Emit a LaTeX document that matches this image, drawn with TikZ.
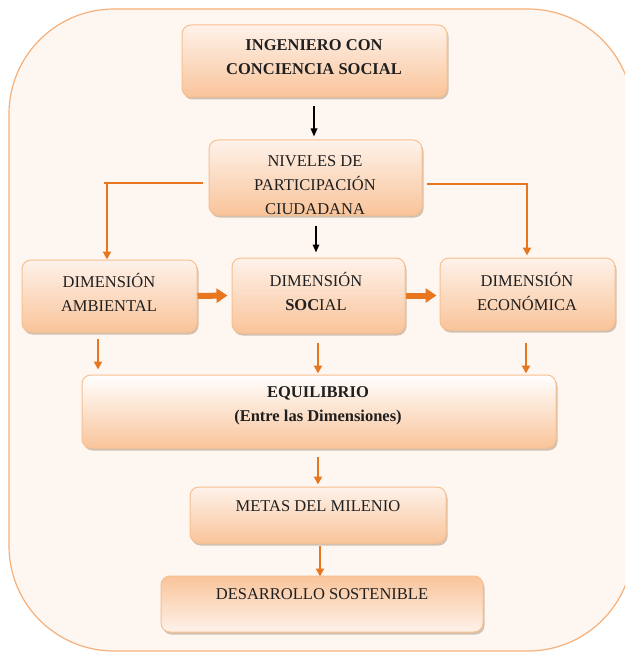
\documentclass[tikz,border=0pt]{standalone}
\usepackage{fontspec}
\setmainfont{Liberation Serif}
\usetikzlibrary{shadows,arrows.meta}
\definecolor{bgfill}{HTML}{FEF6F1}
\definecolor{bgline}{HTML}{F6B07A}
\definecolor{boxline}{HTML}{F8C08F}
\definecolor{boxbot}{HTML}{F9C49A}
\definecolor{boxtop}{HTML}{FEF2EA}
\definecolor{arr}{HTML}{E8761E}
\tikzset{
  box/.style={draw=boxline, line width=1pt, rounded corners=9pt,
    top color=boxtop, bottom color=boxbot,
    drop shadow={shadow xshift=1.5pt, shadow yshift=-2.5pt, fill=boxbot!65!black, opacity=0.45},
    inner sep=0pt},
  boxrev/.style={box, top color=boxbot, bottom color=boxtop},
  txt/.style={align=center, font=\fontsize{16.5}{24}\selectfont, text=black!88, inner sep=0pt},
  oarr/.style={draw=arr, line width=2pt, -{Triangle[length=8pt,width=8pt]}},
  barr/.style={draw=black, line width=1.6pt, -{Triangle[length=8pt,width=6.5pt]}},
  fatarr/.style={draw=arr, line width=6pt, -{Triangle[length=11pt,width=14pt]}},
}
\begin{document}
\begin{tikzpicture}[x=1pt,y=-1pt]
\useasboundingbox (0,0) rectangle (625,652);
\clip (0,0) rectangle (625,652);
\fill[white] (0,0) rectangle (625,652);
\draw[bgline, fill=bgfill, line width=1.2pt, rounded corners=105pt] (9,9) rectangle (633,651);

% boxes
\node[box, minimum width=265pt, minimum height=72pt] (b1) at (314.5,61) {};
\node[box, minimum width=213pt, minimum height=75pt] (b2) at (315.5,177.5) {};
\node[box, minimum width=175pt, minimum height=72pt] (b3) at (109.5,296) {};
\node[box, minimum width=173pt, minimum height=75pt] (b4) at (318.5,295.5) {};
\node[box, minimum width=175pt, minimum height=72pt] (b5) at (527.5,294) {};
\node[box, minimum width=474pt, minimum height=73pt, top color=white] (b6) at (319,411.5) {};
\node[box, minimum width=256pt, minimum height=56pt] (b7) at (318,515) {};
\node[boxrev, minimum width=322pt, minimum height=56pt] (b8) at (322,604) {};

% texts
\node[txt, font=\fontsize{16.5}{24}\selectfont\bfseries] (t1) at (314,57) {INGENIERO CON\\CONCIENCIA SOCIAL};
\node[txt] (t2) at (315,185) {NIVELES DE\\PARTICIPACIÓN\\CIUDADANA};
\node[txt] (t3) at (109,292) {DIMENSIÓN\\AMBIENTAL};
\node[txt] (t4) at (316,291) {DIMENSIÓN\\\textbf{SOC}IAL};
\node[txt] (t5) at (527,291) {DIMENSIÓN\\ECONÓMICA};
\node[txt, font=\fontsize{16.5}{24}\selectfont\bfseries] (t6) at (318,406) {EQUILIBRIO\\(Entre las Dimensiones)};
\node[txt] (t7) at (318,506) {METAS DEL MILENIO};
\node[txt] (t8) at (322,594) {DESARROLLO SOSTENIBLE};

% connectors
\draw[barr] ([xshift=-0.5pt,yshift=-9pt]b1.south) -- ([xshift=-1.5pt,yshift=3pt]b2.north);
\draw[barr] ([xshift=0.5pt,yshift=-10pt]b2.south) -- ([xshift=-2.5pt,yshift=5pt]b4.north);

\coordinate (l0) at (203,183);
\coordinate (r0) at (427,184);
\draw[draw=arr, line width=2pt] (l0) -- (104,183);
\draw[oarr] (107,183) -- ([xshift=-2.5pt]b3.north);
\draw[oarr] (r0) -| ([xshift=-0.5pt,yshift=2pt]b5.north);

\draw[fatarr] (b3.east) -- ([xshift=-4pt]b4.west);
\draw[fatarr] (b4.east) -- ([xshift=-3pt,yshift=-1.5pt]b5.west);

\draw[oarr] ([xshift=-11.5pt,yshift=-6pt]b3.south) -- ++(0,31);
\draw[oarr] ([xshift=-0.5pt,yshift=-9pt]b4.south) -- ++(0,31);
\draw[oarr] ([xshift=-1.5pt,yshift=-12pt]b5.south) -- ++(0,31);
\draw[oarr] ([xshift=-1pt,yshift=-8pt]b6.south) -- ([yshift=2pt]b7.north);
\draw[oarr] ([xshift=2pt,yshift=-2pt]b7.south) -- ++(0,31);
\end{tikzpicture}
\end{document}
